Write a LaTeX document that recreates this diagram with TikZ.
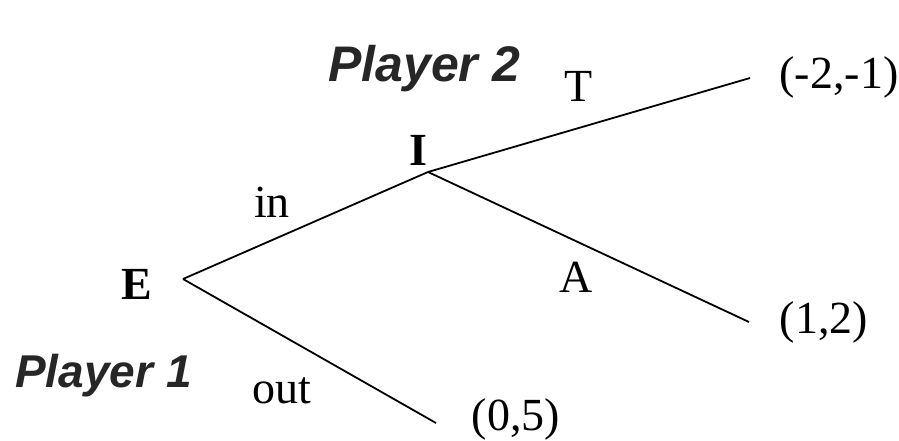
\documentclass[tikz,border=0pt]{standalone}
\usepackage{fontspec}
\setmainfont{Liberation Serif}
\newfontfamily\handfont{Liberation Sans}
\usetikzlibrary{positioning}

\begin{document}
\begin{tikzpicture}[
        x=1pt, y=-1pt,
        branch/.style={line width=1.8pt},
        lbl/.style={inner sep=0pt, anchor=base, font=\fontsize{46}{46}\selectfont},
        player/.style={lbl, anchor=base west, text=black!85, font=\handfont\bfseries\itshape\fontsize{50}{50}\selectfont}
    ]
    \useasboundingbox (0,0) rectangle (899,441);

    % Decision points
    \coordinate (e) at (183,279);
    \coordinate (i) at (428,172);
    \node[lbl, font=\fontsize{46}{46}\selectfont\bfseries] (elbl) at (137,299) {E};
    \node[lbl, font=\fontsize{46}{46}\selectfont\bfseries] (ilbl) at (418,165) {I};

    % Outcomes
    \coordinate (t) at (750,78);
    \coordinate (a) at (749,322);
    \coordinate (o) at (436,423);
    \node[lbl] (tpay) at (839,89) {(-2,-1)};
    \node[lbl] (apay) at (824,333) {(1,2)};
    \node[lbl] (opay) at (516,430) {(0,5)};

    % Branches
    \draw[branch] (e) -- (i);
    \draw[branch] (e) -- (o);
    \draw[branch] (i) -- (t);
    \draw[branch] (i) -- (a);

    % Actions
    \node[lbl] (in) at (272,217) {in};
    \node[lbl] (out) at (282,403) {out};
    \node[lbl] (tact) at (579,102) {T};
    \node[lbl] (aact) at (576,292) {A};

    % Players
    \node[player] (p2) at (328,82) {Player 2};
    \node[player, font=\handfont\bfseries\itshape\fontsize{46}{46}\selectfont] (p1) at (15,387) {Player 1};
\end{tikzpicture}
\end{document}
